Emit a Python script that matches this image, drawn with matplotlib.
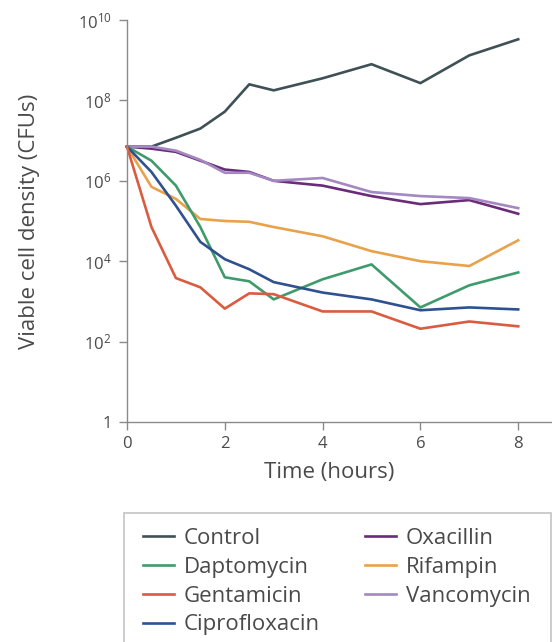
import matplotlib
matplotlib.use("Agg")
import matplotlib.pyplot as plt
from matplotlib.patches import Rectangle
import numpy as np

plt.rcParams['font.family'] = ['Open Sans', 'DejaVu Sans']
plt.rcParams['mathtext.fontset'] = 'custom'
plt.rcParams['mathtext.rm'] = 'Open Sans'
plt.rcParams['mathtext.it'] = 'Open Sans'

# Sampling times (hours)
hours = [0, 0.5, 1, 1.5, 2, 2.5, 3, 4, 5, 6, 7, 8]

# log10 of viable cell density (CFUs) for each treatment
control = [6.85, 6.85, 7.07, 7.30, 7.72, 8.40, 8.25, 8.55, 8.90, 8.43, 9.12, 9.52]
daptomycin = [6.85, 6.50, 5.88, 4.85, 3.60, 3.50, 3.05, 3.55, 3.92, 2.85, 3.40, 3.72]
gentamicin = [6.85, 4.85, 3.58, 3.35, 2.82, 3.20, 3.18, 2.75, 2.75, 2.32, 2.50, 2.38]
ciprofloxacin = [6.85, 6.22, 5.38, 4.48, 4.05, 3.80, 3.48, 3.22, 3.05, 2.78, 2.85, 2.80]
oxacillin = [6.85, 6.80, 6.72, 6.50, 6.28, 6.22, 6.00, 5.88, 5.62, 5.42, 5.52, 5.18]
rifampin = [6.85, 5.85, 5.55, 5.05, 5.00, 4.98, 4.85, 4.62, 4.25, 4.00, 3.88, 4.52]
vancomycin = [6.85, 6.85, 6.75, 6.52, 6.20, 6.20, 6.00, 6.07, 5.72, 5.62, 5.57, 5.32]

series = [
    ("Control", control, "#3f5156"),
    ("Daptomycin", daptomycin, "#3f9b6c"),
    ("Gentamicin", gentamicin, "#d95c40"),
    ("Ciprofloxacin", ciprofloxacin, "#2f5190"),
    ("Oxacillin", oxacillin, "#6a2b78"),
    ("Rifampin", rifampin, "#e9a24a"),
    ("Vancomycin", vancomycin, "#a488c2"),
]

y_ticks = [1, 1e2, 1e4, 1e6, 1e8, 1e10]
y_tick_labels = ["1", r"$\mathregular{10^{2}}$", r"$\mathregular{10^{4}}$",
                 r"$\mathregular{10^{6}}$", r"$\mathregular{10^{8}}$",
                 r"$\mathregular{10^{10}}$"]
x_ticks = [0, 2, 4, 6, 8]

text_col = "#4a4a4a"
axis_col = "#8a8a8a"

W, H = 552, 642
fig = plt.figure(figsize=(W / 100, H / 100), dpi=100)
ax = fig.add_axes([127 / W, 220 / H, 425 / W, 402 / H])

draw_order = [0, 4, 6, 5, 1, 3, 2]
handles = {}
for i in draw_order:
    name, vals, col = series[i]
    (h,) = ax.plot(hours, 10 ** np.array(vals), color=col, lw=1.9,
                   solid_joinstyle='round', label=name, clip_on=False)
    handles[name] = h

ax.set_yscale('log')
ax.set_ylim(1, 1e10)
ax.set_xlim(0, 425 / 48.9)
ax.set_yticks(y_ticks)
ax.set_yticklabels(y_tick_labels)
ax.yaxis.set_minor_locator(matplotlib.ticker.NullLocator())
ax.set_xticks(x_ticks)

for s in ['top', 'right']:
    ax.spines[s].set_visible(False)
for s in ['left', 'bottom']:
    ax.spines[s].set_color(axis_col)
    ax.spines[s].set_linewidth(1.0)

ax.tick_params(axis='both', direction='out', length=6, width=1.0,
               color=axis_col, labelcolor=text_col, labelsize=12)
ax.tick_params(axis='y', pad=5)
ax.tick_params(axis='x', pad=4)

ax.set_ylabel("Viable cell density (CFUs)", fontsize=16, color=text_col)
ax.yaxis.set_label_coords(-(127 - 40) / 425, 0.5)
ax.set_xlabel("Time (hours)", fontsize=16, color=text_col)
ax.xaxis.set_label_coords(0.475, -(462 - 422) / 402)

# Legend frame running off the bottom/right edges
fig.patches.append(Rectangle((124 / W, -0.05), (551 - 124) / W, (H - 513) / H + 0.05,
                             transform=fig.transFigure, facecolor='white',
                             edgecolor='#c4c4c4', lw=1.2, zorder=0))

legend_kw = dict(frameon=False, loc='upper left', fontsize=16,
                 labelcolor=text_col, handlelength=1.4, handletextpad=0.45,
                 labelspacing=0.35, borderpad=0, borderaxespad=0)
left_names = [s[0] for s in series[:4]]
right_names = [s[0] for s in series[4:]]
leg1 = fig.legend([handles[n] for n in left_names], left_names,
                  bbox_to_anchor=(143 / W, 1 - 528 / H), **legend_kw)
leg2 = fig.legend([handles[n] for n in right_names], right_names,
                  bbox_to_anchor=(365 / W, 1 - 528 / H), **legend_kw)

fig.savefig("out.png", dpi=100)
